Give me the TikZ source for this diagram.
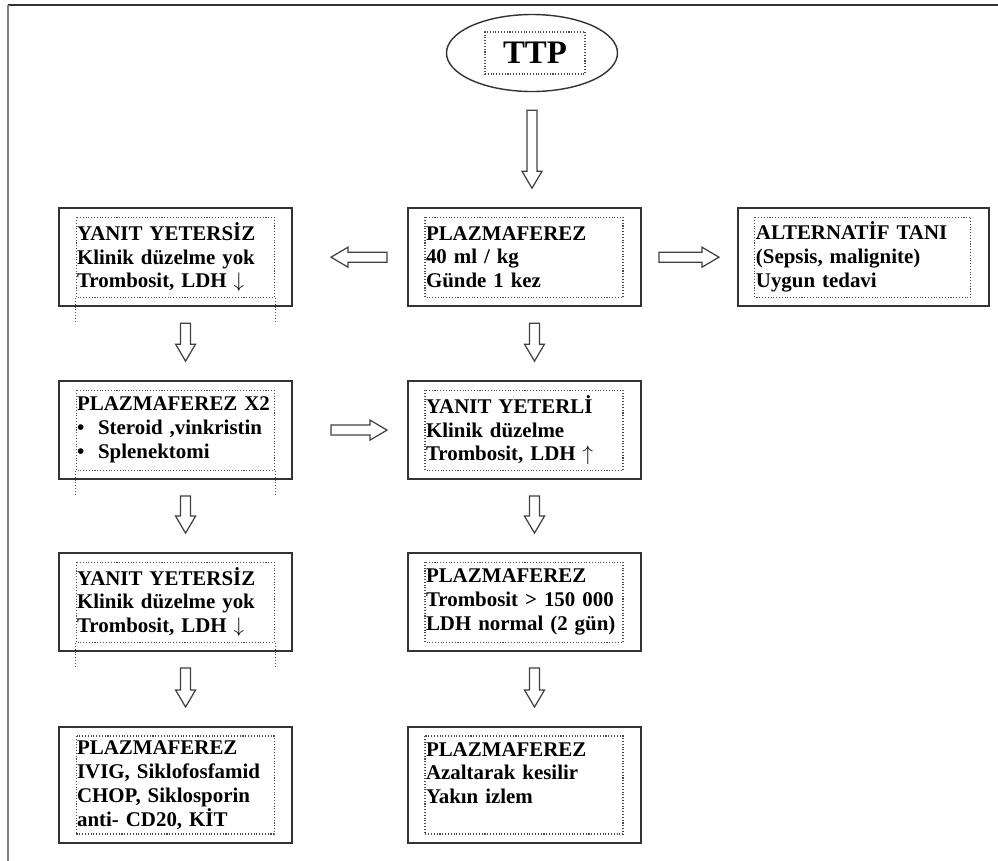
\documentclass[tikz,border=0pt]{standalone}
\usepackage{fontspec}
\setmainfont{Liberation Serif}
\usetikzlibrary{positioning, shapes.geometric, calc}

\tikzset{
  innerdot/.style={draw=black!70, densely dotted, line width=0.6pt},
  tbox/.style={draw=black!80, line width=1.1pt, minimum width=4.66cm, minimum height=1.96cm,
    text width=3.94cm, inner xsep=0.36cm, align=left,
    path picture={\draw[innerdot] ([xshift=0.34cm,yshift=-0.18cm]path picture bounding box.north west)
      rectangle ([xshift=-0.36cm,yshift=0.18cm]path picture bounding box.south east);}},
  blockarr/.style={draw=black!75, line width=0.7pt,
    to path={let \p1=(\tikztostart), \p2=(\tikztotarget), \p3=($(\p2)!0.34cm!(\p1)$) in
      ($(\p1)!0.1cm!90:(\p2)$) -- ($(\p3)!0.1cm!90:(\p2)$) -- ($(\p3)!0.2cm!90:(\p2)$) -- (\p2)
      -- ($(\p3)!0.2cm!-90:(\p2)$) -- ($(\p3)!0.1cm!-90:(\p2)$) -- ($(\p1)!0.1cm!-90:(\p2)$) -- cycle}}
}

\begin{document}
\begin{tikzpicture}[font=\fontsize{11.9}{13.6}\selectfont\bfseries]
  \useasboundingbox (0,0) rectangle (19.96,-17.22);
  % page frame
  \draw[black!80, line width=1.2pt] (19.96,-0.1) -- (0.16,-0.1);
  \draw[black!50, line width=1pt] (0.16,-0.1) -- (0.16,-17.22);
  % start
  \node[draw=black!80, line width=0.8pt, ellipse, minimum width=3.42cm, minimum height=1.54cm] (ttp) at (10.64,-1.06) {};
  \node[innerdot, minimum width=2cm, minimum height=0.84cm, font=\fontsize{18.7}{20}\selectfont\bfseries] (ttplbl) at ([xshift=0.06cm]ttp.center) {TTP};
  % center column
  \node[tbox, below=2.3cm of ttp, xshift=-0.15cm] (c1) {PLAZMAFEREZ\\40 ml / kg\\Günde 1 kez};
  \node[tbox, below=1.46cm of c1] (c2) {YANIT YETERLİ\\Klinik düzelme\\Trombosit, LDH $\uparrow$};
  \node[tbox, below=1.44cm of c2] (c3) {PLAZMAFEREZ\\Trombosit > 150 000\\LDH normal (2 gün)};
  \node[tbox, below=1.48cm of c3, minimum height=2.32cm] (c4) {PLAZMAFEREZ\\Azaltarak kesilir\\Yakın izlem\\\mbox{}};
  % right
  \node[tbox, right=1.9cm of c1, minimum width=5.02cm, text width=4.3cm] (alt) {ALTERNATİF TANI\\(Sepsis, malignite)\\Uygun tedavi};
  % left column
  \node[tbox, left=2.28cm of c1] (l1) {YANIT YETERSİZ\\Klinik düzelme yok\\Trombosit, LDH $\downarrow$};
  \node[tbox, left=2.28cm of c2] (l2) {PLAZMAFEREZ X2\\\makebox[0.42cm][l]{\textbullet}Steroid ,vinkristin\\\makebox[0.42cm][l]{\textbullet}Splenektomi};
  \node[tbox, left=2.28cm of c3] (l3) {YANIT YETERSİZ\\Klinik düzelme yok\\Trombosit, LDH $\downarrow$};
  \node[tbox, left=2.28cm of c4, minimum height=2.32cm] (l4) {PLAZMAFEREZ\\IVIG, Siklofosfamid\\CHOP, Siklosporin\\anti- CD20, KİT};
  % dotted frame running past the box
  \foreach \b in {l1, l2, l3} {
    \draw[innerdot] ([xshift=0.34cm,yshift=0.18cm]\b.south west) -- ++(0,-0.46cm);
    \draw[innerdot] ([xshift=-0.36cm,yshift=0.18cm]\b.south east) -- ++(0,-0.46cm);
  }
  % arrows
  \draw[blockarr] ([yshift=-0.36cm]ttp.south) to ([yshift=0.38cm]ttp.south |- c1.north);
  \draw[blockarr] ([xshift=-0.4cm]c1.west) to ([xshift=0.76cm]l1.east);
  \draw[blockarr] ([xshift=0.34cm]c1.east) to ([xshift=-0.36cm]alt.west);
  \draw[blockarr] ([xshift=0.76cm]l2.east) to ([xshift=-0.4cm]c2.west);
  \draw[blockarr] ([xshift=0.2cm,yshift=-0.32cm]c1.south) to ([xshift=0.2cm,yshift=0.38cm]c2.north);
  \draw[blockarr] ([xshift=0.2cm,yshift=-0.32cm]c2.south) to ([xshift=0.2cm,yshift=0.38cm]c3.north);
  \draw[blockarr] ([xshift=0.2cm,yshift=-0.32cm]c3.south) to ([xshift=0.2cm,yshift=0.38cm]c4.north);
  \draw[blockarr] ([xshift=0.2cm,yshift=-0.32cm]l1.south) to ([xshift=0.2cm,yshift=0.38cm]l2.north);
  \draw[blockarr] ([xshift=0.2cm,yshift=-0.32cm]l2.south) to ([xshift=0.2cm,yshift=0.38cm]l3.north);
  \draw[blockarr] ([xshift=0.2cm,yshift=-0.32cm]l3.south) to ([xshift=0.2cm,yshift=0.38cm]l4.north);
\end{tikzpicture}
\end{document}
